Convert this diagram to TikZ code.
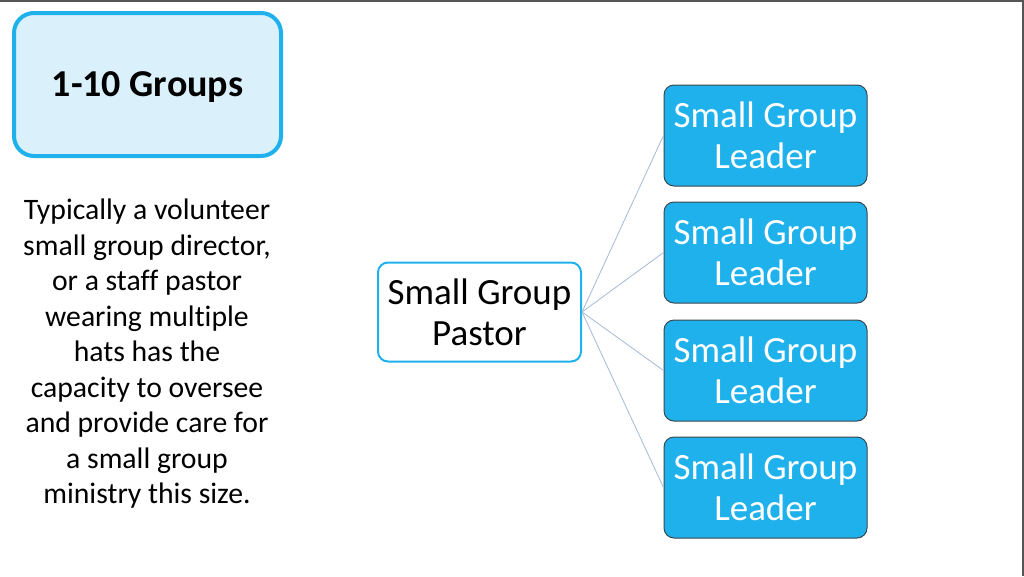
\documentclass[tikz,border=0pt]{standalone}
\usepackage{fontspec}
\setmainfont{Carlito}[Ligatures={NoCommon}]
\definecolor{cyanb}{HTML}{1FB1EC}
\definecolor{lightb}{HTML}{DAF0FB}
\definecolor{boxedge}{HTML}{3A4750}
\definecolor{conn}{HTML}{A3BBD6}
\definecolor{frame}{HTML}{555555}
\tikzset{
  titlebox/.style={draw=cyanb, line width=4pt, fill=lightb, rounded corners=20pt,
    minimum width=267pt, minimum height=143pt, inner sep=0pt, text depth=0pt,
    font=\fontsize{38}{40}\selectfont\bfseries},
  pastorbox/.style={draw=cyanb, line width=2pt, fill=white, rounded corners=10pt,
    minimum width=203pt, minimum height=99pt, inner sep=0pt, align=center,
    font=\fontsize{37}{40.7}\selectfont},
  leaderbox/.style={draw=boxedge, line width=1pt, fill=cyanb, rounded corners=10pt,
    minimum width=203pt, minimum height=101pt, inner sep=0pt, align=center,
    text=white, font=\fontsize{37}{40.7}\selectfont},
  desc/.style={align=center, inner sep=0pt, font=\fontsize{29.7}{35.5}\selectfont},
  link/.style={draw=conn, line width=0.8pt}
}
\begin{document}
\begin{tikzpicture}[x=1pt,y=-1pt]
\useasboundingbox (0,0) rectangle (1024,576);
\fill[white] (0,0) rectangle (1024,576);
\draw[frame, line width=2pt] (0,1) -- (1024,1);
\draw[frame, line width=2pt] (1023,0) -- (1023,576);
\node[titlebox] (title) at (147.5,84.5) {1-10 Groups};
\node[desc] (text) at (147,354) {Typically a volunteer\\small group director,\\or a staff pastor\\wearing multiple\\hats has the\\capacity to oversee\\and provide care for\\a small group\\ministry this size.};
\node[pastorbox] (pastor) at (479.5,312) {Small Group\\Pastor};
\node[leaderbox] (l1) at (765.5,135.5) {Small Group\\Leader};
\node[leaderbox] (l2) at (765.5,252.5) {Small Group\\Leader};
\node[leaderbox] (l3) at (765.5,370.5) {Small Group\\Leader};
\node[leaderbox] (l4) at (765.5,487.5) {Small Group\\Leader};
\foreach \n in {l1,l2,l3,l4} \draw[link] (pastor.east) -- (\n.west);
\end{tikzpicture}
\end{document}
